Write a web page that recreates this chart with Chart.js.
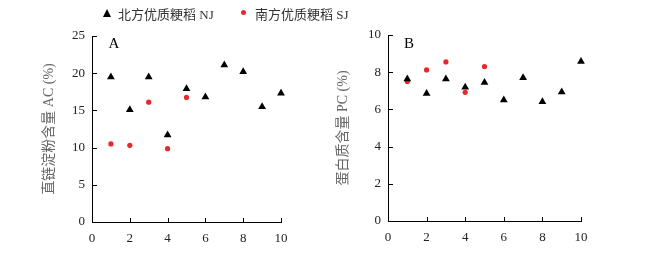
<!DOCTYPE html>
<html>
<head>
<meta charset="utf-8">
<script src="https://cdn.jsdelivr.net/npm/chart.js@4"></script>
<style>
  body { margin: 0; background: #fff; }
  #wrap { position: relative; width: 662px; height: 262px; overflow: hidden; }
  canvas { position: absolute; top: 0; }
  .lg { position: absolute; top: 4px; font: 13px "Liberation Serif", "Noto Sans CJK SC", serif; color: #333; white-space: nowrap; }
  .tri { position: absolute; top: 9px; width: 0; height: 0; border-left: 4px solid transparent; border-right: 4px solid transparent; border-bottom: 8px solid #000; }
  .dot { position: absolute; top: 10px; width: 5px; height: 5px; border-radius: 50%; background: #e8282a; }
</style>
</head>
<body>
<div id="wrap">
  <canvas id="chartA" width="331" height="262" style="left:0"></canvas>
  <canvas id="chartB" width="331" height="262" style="left:331px"></canvas>
  <div class="tri" style="left:103px"></div>
  <div class="lg" style="left:118px">北方优质粳稻 NJ</div>
  <div class="dot" style="left:241px"></div>
  <div class="lg" style="left:255px">南方优质粳稻 SJ</div>
</div>
<script>
const njX = [1, 2, 3, 4, 5, 6, 7, 8, 9, 10];
const sjX = [1, 2, 3, 4, 5];
const njAC = [19.5, 15.1, 19.5, 11.7, 17.9, 16.8, 21.1, 20.2, 15.5, 17.3];
const sjAC = [10.5, 10.3, 16.1, 9.85, 16.75];
const njPC = [7.63, 6.86, 7.63, 7.19, 7.45, 6.5, 7.7, 6.41, 6.94, 8.57];
const sjPC = [7.5, 8.12, 8.55, 6.92, 8.3];

const serif = "'Liberation Serif', 'Noto Sans CJK SC', serif";

// ticks point into the plot area
const innerTicks = {
  id: "innerTicks",
  afterDatasetsDraw(chart) {
    const ctx = chart.ctx;
    const xs = chart.scales.x, ys = chart.scales.y;
    ctx.save();
    ctx.strokeStyle = "#000";
    ctx.lineWidth = 1;
    ctx.beginPath();
    xs.ticks.forEach(t => {
      const px = Math.round(xs.getPixelForValue(t.value)) + 0.5;
      ctx.moveTo(px, xs.top);
      ctx.lineTo(px, xs.top - 4);
    });
    ys.ticks.forEach(t => {
      const py = Math.round(ys.getPixelForValue(t.value)) + 0.5;
      ctx.moveTo(ys.right, py);
      ctx.lineTo(ys.right + 5, py);
    });
    ctx.stroke();
    ctx.restore();
  }
};

const panelLabel = {
  id: "panelLabel",
  afterDraw(chart, args, opts) {
    const ctx = chart.ctx;
    ctx.save();
    ctx.font = "15px " + serif;
    ctx.fillStyle = "#000";
    ctx.textAlign = "center";
    ctx.textBaseline = "middle";
    ctx.fillText(opts.text, chart.chartArea.left + opts.dx, chart.chartArea.top + opts.dy);
    ctx.restore();
  }
};

function pts(xs, ys) {
  return xs.map((x, i) => ({ x: x, y: ys[i] }));
}

function makeChart(id, nj, sj, yMax, yStep, yTitle, pad, yWidth, xHeight, titlePad, lbl) {
  return new Chart(document.getElementById(id), {
    type: "scatter",
    data: {
      datasets: [
        {
          label: "北方优质粳稻 NJ",
          data: pts(njX, nj),
          pointStyle: "triangle",
          pointRadius: 4.5,
          backgroundColor: "#000",
          borderColor: "#000",
          borderWidth: 0,
          clip: false,
        },
        {
          label: "南方优质粳稻 SJ",
          data: pts(sjX, sj),
          pointStyle: "circle",
          pointRadius: 2.6,
          backgroundColor: "#e8282a",
          borderColor: "#e8282a",
          borderWidth: 0,
          clip: false,
        },
      ],
    },
    options: {
      responsive: false,
      animation: false,
      layout: { padding: pad },
      plugins: {
        legend: { display: false },
        tooltip: { enabled: false },
        panelLabel: lbl,
      },
      scales: {
        x: {
          type: "linear",
          min: 0,
          max: 10,
          ticks: { stepSize: 2, padding: 9, color: "#222", font: { family: serif, size: 13 } },
          grid: { display: false, drawTicks: false },
          border: { display: true, color: "#000", width: 1 },
          afterFit: (s) => { s.height = xHeight; },
        },
        y: {
          min: 0,
          max: yMax,
          ticks: { stepSize: yStep, padding: 7, color: "#222", font: { family: serif, size: 13 } },
          grid: { display: false, drawTicks: false },
          border: { display: true, color: "#000", width: 1 },
          title: {
            display: true,
            text: yTitle,
            color: "#666",
            padding: { top: titlePad, bottom: 0 },
            font: { family: serif, size: 14 },
          },
          afterFit: (s) => { s.width = yWidth; },
        },
      },
    },
    plugins: [innerTicks, panelLabel],
  });
}

makeChart("chartA", njAC, sjAC, 25, 5, "直链淀粉含量 AC (%)",
  { left: 0, top: 36, right: 50, bottom: 0 }, 92, 40, 41,
  { text: "A", dx: 22, dy: 8 });

makeChart("chartB", njPC, sjPC, 10, 2, "蛋白质含量 PC (%)",
  { left: 0, top: 35, right: 81, bottom: 0 }, 57, 41, 4,
  { text: "B", dx: 21, dy: 9 });
</script>
</body>
</html>
